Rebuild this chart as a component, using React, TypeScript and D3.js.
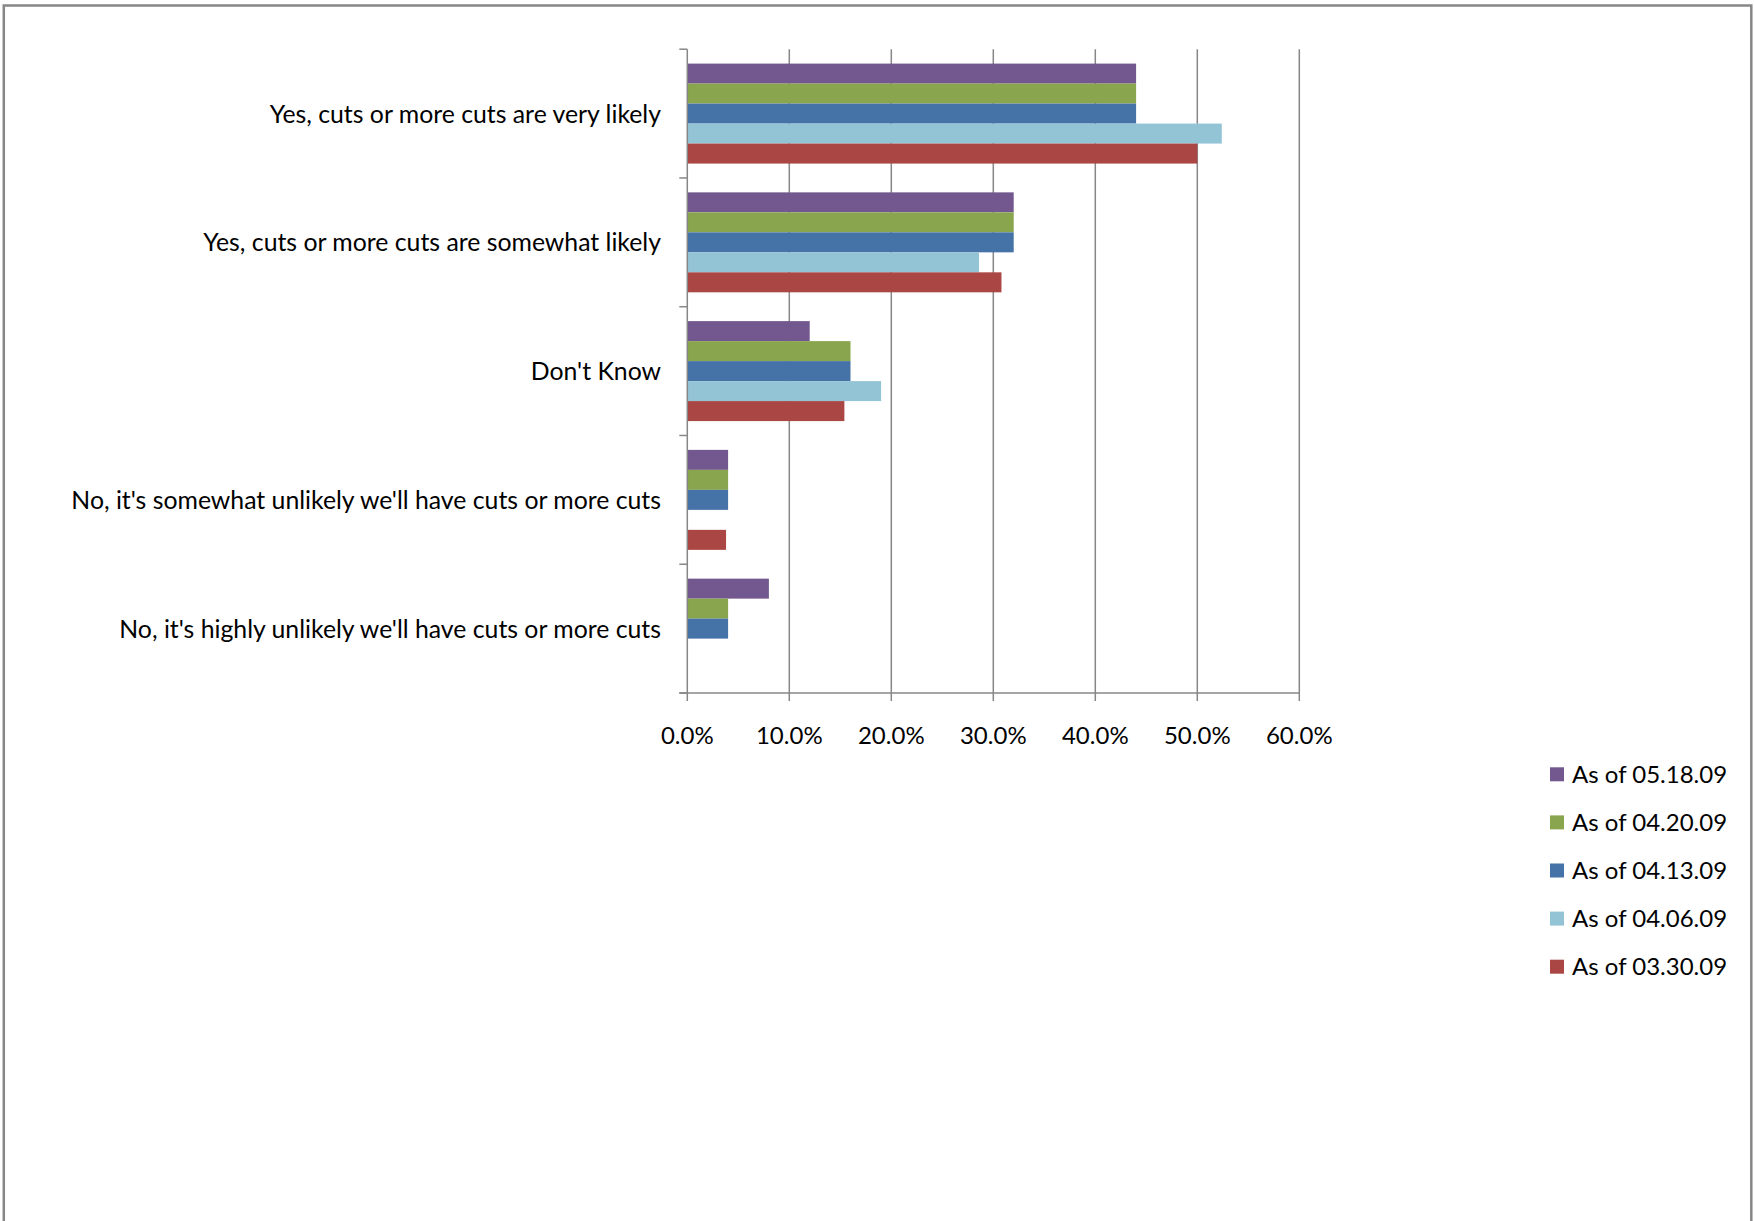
import React from 'react';
import * as d3 from 'd3';

const categories = [
  'Yes, cuts or more cuts are very likely',
  'Yes, cuts or more cuts are somewhat likely',
  "Don't Know",
  "No, it's somewhat unlikely we'll have cuts or more cuts",
  "No, it's highly unlikely we'll have cuts or more cuts",
];

const seriesNames = ['As of 05.18.09', 'As of 04.20.09', 'As of 04.13.09', 'As of 04.06.09', 'As of 03.30.09'];
const seriesColors = ['#72588F', '#89A54E', '#4572A7', '#93C4D6', '#AA4643'];

const v051809 = [44.0, 32.0, 12.0, 4.0, 8.0];
const v042009 = [44.0, 32.0, 16.0, 4.0, 4.0];
const v041309 = [44.0, 32.0, 16.0, 4.0, 4.0];
const v040609 = [52.4, 28.6, 19.0, 0, 0];
const v033009 = [50.0, 30.8, 15.4, 3.8, 0];

const seriesValues = [v051809, v042009, v041309, v040609, v033009];

const xTicks = [0, 10, 20, 30, 40, 50, 60];

const W = 1754;
const H = 1221;
const FONT = 'Lato, "Noto Sans", sans-serif';
const GRID = '#878787';

export default function App() {
  const x = d3.scaleLinear().domain([0, 60]).range([687.3, 1299.3]);
  const y = d3
    .scaleBand<string>()
    .domain(categories)
    .range([49.2, 693])
    .paddingInner(0.2236)
    .paddingOuter(0.1118);
  const ySub = d3.scaleBand<string>().domain(seriesNames).range([0, y.bandwidth()]);
  const step = y.step();
  const top = 49.2;
  const bottom = 693;
  const boundaries = d3.range(categories.length + 1).map((i) => top + i * step);
  const fmt = d3.format('.1f');

  return (
    <svg
      width={W}
      height={H}
      style={{ position: 'absolute', left: 0, top: 0, background: '#fff' }}
      fontFamily={FONT}
    >
      <rect x={0} y={0} width={W} height={H} fill="#fff" />
      <rect x={3.8} y={5.5} width={1747.5} height={1300} fill="none" stroke={GRID} strokeWidth={2.5} />

      {/* gridlines */}
      {xTicks.map((t) =>
        t === 0 ? null : (
          <line key={'g' + t} x1={x(t)} x2={x(t)} y1={top} y2={bottom + 8} stroke={GRID} strokeWidth={1.5} />
        )
      )}

      {/* bars */}
      {categories.map((c, ci) => (
        <g key={c} transform={`translate(0,${y(c)})`}>
          {seriesNames.map((s, si) => {
            const v = seriesValues[si][ci];
            if (!v) return null;
            return (
              <rect
                key={s}
                x={x(0)}
                y={ySub(s)}
                width={x(v) - x(0)}
                height={ySub.bandwidth()}
                fill={seriesColors[si]}
              />
            );
          })}
        </g>
      ))}

      {/* y axis */}
      <line x1={x(0)} x2={x(0)} y1={top} y2={bottom + 8} stroke={GRID} strokeWidth={1.5} />
      {boundaries.map((b, i) => (
        <line key={'yt' + i} x1={x(0) - 8} x2={x(0)} y1={b} y2={b} stroke={GRID} strokeWidth={1.5} />
      ))}
      {/* x axis */}
      <line x1={x(0) - 8} x2={x(60)} y1={bottom} y2={bottom} stroke={GRID} strokeWidth={1.5} />

      {/* category labels */}
      {categories.map((c) => (
        <text
          key={'l' + c}
          x={661}
          y={(y(c) as number) + y.bandwidth() / 2 + 9}
          textAnchor="end"
          fontSize={24.8}
          fill="#000"
        >
          {c}
        </text>
      ))}

      {/* x tick labels */}
      {xTicks.map((t) => (
        <text key={'xl' + t} x={x(t)} y={744} textAnchor="middle" fontSize={24} fill="#000">
          {fmt(t) + '%'}
        </text>
      ))}

      {/* legend */}
      {seriesNames.map((s, i) => {
        const cy = 774.3 + i * 48.1;
        return (
          <g key={'lg' + s}>
            <rect x={1550} y={cy - 7} width={14} height={14} fill={seriesColors[i]} />
            <text x={1572} y={cy + 8.5} fontSize={24} fill="#000">
              {s}
            </text>
          </g>
        );
      })}
    </svg>
  );
}
